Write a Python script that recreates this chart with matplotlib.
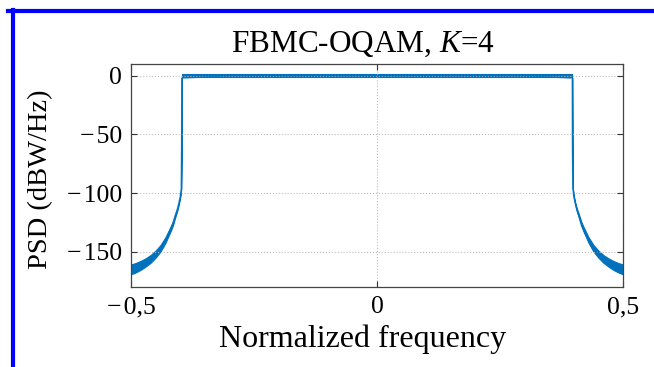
import matplotlib
matplotlib.use("Agg")
import matplotlib.pyplot as plt
import numpy as np
from matplotlib.lines import Line2D

# ---- data ----
# right-hand skirt of the PSD (mirrored for the left side)
f_skirt = [0.3968, 0.3972, 0.398, 0.400, 0.403, 0.406, 0.410, 0.415, 0.420, 0.430,
           0.440, 0.450, 0.460, 0.470, 0.480, 0.490, 0.500]
psd_skirt = [-2, -60, -96, -103, -109, -114, -119, -126, -131, -140,
             -147, -152, -156, -159, -161.5, -163.5, -165]
skirt_spread = [0.3, 0.4, 0.6, 0.8, 1.0, 1.2, 1.5, 1.8, 2.0, 2.4,
                2.8, 3.0, 3.3, 3.5, 3.8, 4.0, 4.2]
# in-band flat part
f_band = [-0.3968, -0.3, -0.2, -0.1, 0.0, 0.1, 0.2, 0.3, 0.3968]
psd_band = [0, 0, 0, 0, 0, 0, 0, 0, 0]
band_spread = [1.4, 1.4, 1.4, 1.4, 1.4, 1.4, 1.4, 1.4, 1.4]

title = "FBMC-OQAM, $K$=4"
xlabel = "Normalized frequency"
ylabel = "PSD (dBW/Hz)"
xticks = [-0.5, 0, 0.5]
xticklabels = ["\u2212\u200a0,5", "0", "0,5"]
yticks = [0, -50, -100, -150]
yticklabels = ["0", "\u2212\u200a50", "\u2212\u200a100", "\u2212\u200a150"]

# ---- build full spectrum ----
fr = np.array(f_skirt)
pr = np.array(psd_skirt)
sr = np.array(skirt_spread)
fl = -fr[::-1]
pl = pr[::-1]
sl = sr[::-1]
fb = np.array(f_band)
pb = np.array(psd_band)
sb = np.array(band_spread)

f_all = np.concatenate([fl, fb[1:-1], fr])
p_all = np.concatenate([pl, pb[1:-1], pr])

plt.rcParams["font.family"] = ["Liberation Serif", "DejaVu Serif"]
plt.rcParams["mathtext.fontset"] = "custom"
plt.rcParams["mathtext.it"] = "Liberation Serif:italic"
plt.rcParams["mathtext.rm"] = "Liberation Serif"

W, H = 654, 367
fig = plt.figure(figsize=(W / 100, H / 100), dpi=100)
ax = fig.add_axes([131 / W, 1 - 287 / H, 492 / W, 223 / H])

color = "#0072BD"
ax.fill_between(fr, pr - sr, pr + sr, color=color, lw=0.8, ec=color)
ax.fill_between(fl, pl - sl, pl + sl, color=color, lw=0.8, ec=color)
ax.plot(f_all, p_all, color=color, lw=1.0, alpha=0.75)
ax.fill_between(fb, pb - sb, pb + sb, color=color, lw=0.8, ec=color)

ax.set_xlim(-0.5, 0.5)
ax.set_ylim(-180, 10)
ax.set_xticks(xticks)
ax.set_xticklabels(xticklabels)
ax.set_yticks(yticks)
ax.set_yticklabels(yticklabels)
ax.tick_params(direction="in", top=True, right=True, labelsize=18.5,
               length=4, width=0.8, color="#333333", pad=6.5)
ax.grid(True, color="#bbbbbb", linestyle=":", linewidth=0.8)
for sp in ax.spines.values():
    sp.set_color("#444444")
    sp.set_linewidth(0.9)

fig.text(363 / W, 1 - 52 / H, title, ha="center", va="baseline", fontsize=22.5)
fig.text(363 / W, 1 - 347 / H, xlabel, ha="center", va="baseline", fontsize=23)
fig.text(41 / W, 1 - 179 / H, ylabel, ha="center", va="center",
         rotation=90, fontsize=20.5)

# blue screenshot frame
fig.add_artist(Line2D([8 / W, 1.0], [1 - 11.3 / H, 1 - 11.3 / H],
                      transform=fig.transFigure, color="#0000ff", lw=3))
fig.add_artist(Line2D([12.5 / W, 12.5 / W], [1 - 9.5 / H, 0.0],
                      transform=fig.transFigure, color="#0000ff", lw=3))

fig.savefig("out.png", dpi=100)
